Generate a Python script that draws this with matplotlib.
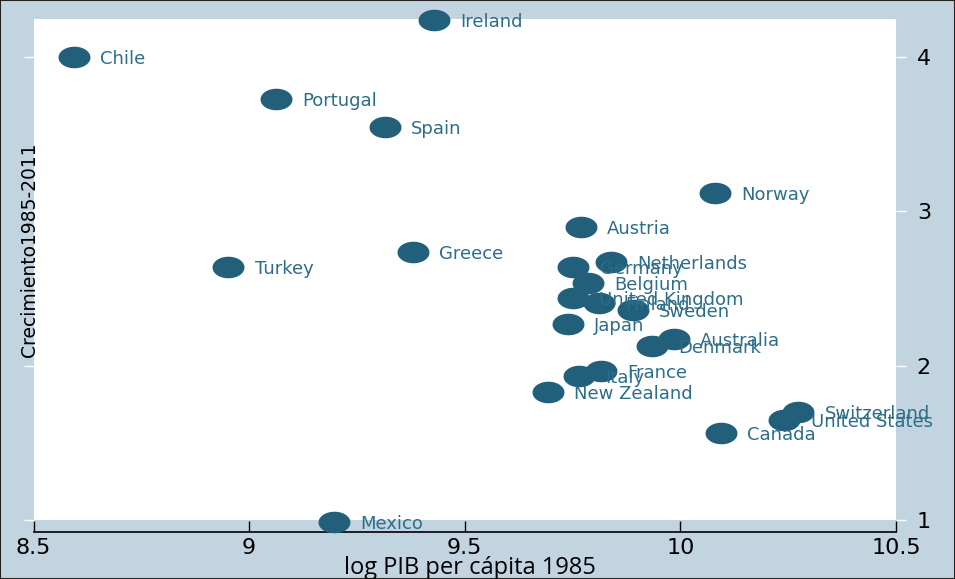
import matplotlib
matplotlib.use('Agg')
import matplotlib.pyplot as plt
import numpy as np

# datos
paises = ['Ireland', 'Chile', 'Portugal', 'Spain', 'Norway', 'Austria', 'Greece',
          'Turkey', 'Netherlands', 'Germany', 'Belgium', 'United Kingdom', 'Finland',
          'Sweden', 'Japan', 'Australia', 'Denmark', 'France', 'Italy', 'New Zealand',
          'Switzerland', 'United States', 'Canada', 'Mexico']
log_pib = [9.428, 8.594, 9.063, 9.314, 10.080, 9.769, 9.379,
           8.952, 9.839, 9.752, 9.785, 9.751, 9.811,
           9.890, 9.739, 9.985, 9.934, 9.816, 9.765, 9.693,
           10.273, 10.241, 10.094, 9.196]
crecimiento = [4.24, 4.00, 3.728, 3.547, 3.119, 2.899, 2.737,
               2.640, 2.672, 2.640, 2.536, 2.439, 2.406,
               2.361, 2.270, 2.173, 2.128, 1.966, 1.933, 1.830,
               1.700, 1.648, 1.564, 0.987]

xticks = [8.5, 9, 9.5, 10, 10.5]
xticklabels = ['8.5', '9', '9.5', '10', '10.5']
yticks = [1, 2, 3, 4]

fondo = '#c3d4e1'
color_marca = '#215f7b'
color_texto = '#2c6d8a'

# marcador eliptico (mas ancho que alto)
t = np.linspace(0, 2 * np.pi, 60)
elipse = list(zip(np.cos(t), 0.66 * np.sin(t)))

fig = plt.figure(figsize=(9.55, 5.79), dpi=100, facecolor=fondo)
ax = fig.add_axes([0.0351, 0.1019, 0.9031, 0.8661])
ax.set_facecolor('white')

ax.plot(log_pib, crecimiento, linestyle='none', marker=elipse, markersize=22,
        color=color_marca, clip_on=False, zorder=3)
for p, xi, yi in zip(paises, log_pib, crecimiento):
    ax.annotate(p, (xi, yi), xytext=(19, -1.5), textcoords='offset points',
                ha='left', va='center', fontsize=13, color=color_texto,
                annotation_clip=False, zorder=4)

ax.set_xlim(8.5, 10.5)
ax.set_ylim(1, 4.25)
for s in ['top', 'left', 'right']:
    ax.spines[s].set_visible(False)
ax.spines['bottom'].set_position(('outward', 9))
ax.spines['bottom'].set_linewidth(1.2)

ax.set_xticks(xticks)
ax.set_xticklabels(xticklabels)
ax.tick_params(axis='x', direction='in', length=8, width=1, labelsize=16, pad=4)
ax.set_yticks(yticks)
ax.tick_params(axis='y', left=True, right=True, labelleft=False, labelright=True,
               direction='out', length=7, width=1, color='white', labelsize=16, pad=8)

fig.text(470 / 955, 1 - 568 / 579, 'log PIB per cápita 1985', ha='center', va='center',
         fontsize=17, family=['Open Sans', 'DejaVu Sans'])
fig.text(30 / 955, 1 - 250 / 579, 'Crecimiento1985-2011', rotation=90, ha='center',
         va='center', fontsize=13.5, family=['Liberation Sans Narrow', 'DejaVu Sans'])

fig.add_artist(plt.Rectangle((0, 0), 1, 1, transform=fig.transFigure, fill=False,
                             edgecolor='#222222', linewidth=1.5))

fig.savefig('out.png', dpi=100, facecolor=fig.get_facecolor())
